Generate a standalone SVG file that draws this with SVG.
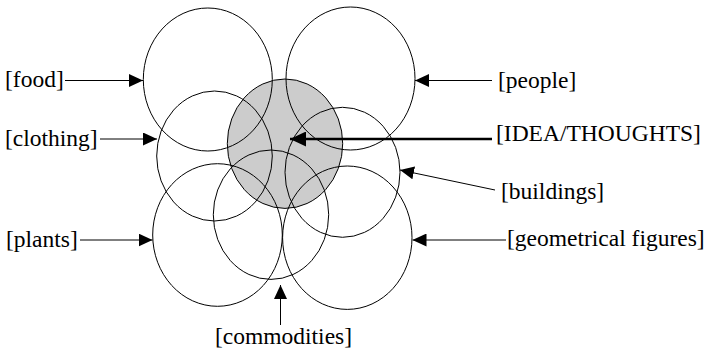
<svg xmlns="http://www.w3.org/2000/svg" width="710" height="350" viewBox="0 0 710 350">
<style>
.c{fill:none;stroke:#000;stroke-width:1}
.g{fill:#cccccc;stroke:#000;stroke-width:1}
.t{font-family:"Liberation Serif","Times New Roman",serif;font-size:23.5px;fill:#000}
.l{stroke:#000;stroke-width:1;fill:none}
.lb{stroke:#000;stroke-width:2.5;fill:none}
</style>
<defs>
<marker id="a" markerUnits="userSpaceOnUse" viewBox="0 0 14 13" refX="14" refY="6.5" markerWidth="14" markerHeight="13" orient="auto"><path d="M0,0 L14,6.5 L0,13 Z" fill="#000"/></marker>
<marker id="ab" markerUnits="userSpaceOnUse" viewBox="0 0 16 15" refX="16" refY="7.5" markerWidth="16" markerHeight="15" orient="auto"><path d="M0,0 L16,7.5 L0,15 Z" fill="#000"/></marker>
</defs>
<g id="idea"><ellipse class="g" cx="285" cy="143.7" rx="57.7" ry="64.7"/></g>
<g id="food"><ellipse class="c" cx="207.8" cy="79.5" rx="64.5" ry="71.5"/><text class="t" x="5" y="87">[food]</text></g>
<g id="people"><ellipse class="c" cx="350.5" cy="78.5" rx="64.5" ry="71.5"/><text class="t" x="498" y="88">[people]</text></g>
<g id="clothing"><ellipse class="c" cx="214.5" cy="156" rx="57.8" ry="65"/><text class="t" x="5" y="146">[clothing]</text></g>
<g id="buildings"><ellipse class="c" cx="342.5" cy="172.3" rx="57.5" ry="65"/><text class="t" x="501" y="199">[buildings]</text></g>
<g id="plants"><ellipse class="c" cx="217.5" cy="235" rx="64.8" ry="71.3"/><text class="t" x="6" y="247">[plants]</text></g>
<g id="commodities"><ellipse class="c" cx="271" cy="214.7" rx="57.7" ry="64.7"/><text class="t" x="215" y="344">[commodities]</text></g>
<g id="geometrical"><ellipse class="c" cx="347.3" cy="237.7" rx="64.7" ry="71.7"/><text class="t" x="507" y="246">[geometrical figures]</text></g>
<g id="idea-label"><text class="t" x="496" y="141">[IDEA/THOUGHTS]</text></g>
<g id="connectors">
<line class="l" x1="65" y1="80.5" x2="143" y2="80.5" marker-end="url(#a)"/>
<line class="l" x1="100" y1="139" x2="157" y2="139" marker-end="url(#a)"/>
<line class="l" x1="80" y1="240" x2="152.5" y2="240" marker-end="url(#a)"/>
<line class="l" x1="280.5" y1="325" x2="280.5" y2="285" marker-end="url(#a)"/>
<line class="l" x1="492" y1="80.5" x2="415" y2="80.5" marker-end="url(#a)"/>
<line class="lb" x1="492" y1="139" x2="290" y2="139" marker-end="url(#ab)"/>
<line class="l" x1="495" y1="190" x2="400" y2="170" marker-end="url(#a)"/>
<line class="l" x1="506" y1="240" x2="412.5" y2="240" marker-end="url(#a)"/>
</g>
</svg>
